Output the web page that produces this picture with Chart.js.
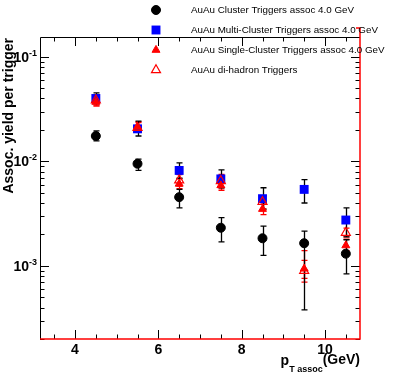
<!DOCTYPE html>
<html>
<head>
<meta charset="utf-8">
<script src="https://cdn.jsdelivr.net/npm/chart.js@4"></script>
<style>
  html, body { margin: 0; padding: 0; background: #fff; }
  #wrap { width: 401px; height: 377px; }
</style>
</head>
<body>
<div id="wrap"><canvas id="myChart" width="401" height="377"></canvas></div>
<script>
// pT assoc bin centres (GeV)
const ptAssoc = [4.5, 5.5, 6.5, 7.5, 8.5, 9.5, 10.5];

// AuAu Cluster Triggers assoc 4.0 GeV
const cluster   = [0.0175, 0.0095, 0.00455, 0.00232, 0.00184, 0.00165, 0.00131];
const clusterHi = [0.0196, 0.0105, 0.0054, 0.0029, 0.0024, 0.00215, 0.00178];
const clusterLo = [0.0157, 0.0082, 0.0036, 0.0017, 0.00126, 0.00038, 0.00084];

// AuAu Multi-Cluster Triggers assoc 4.0 GeV
const multi   = [0.0400, 0.0205, 0.0082, 0.0068, 0.0044, 0.0054, 0.00275];
const multiHi = [0.0453, 0.0243, 0.0097, 0.0083, 0.0056, 0.0067, 0.0036];
const multiLo = [0.0355, 0.0175, 0.0069, 0.0056, 0.0035, 0.0040, 0.0019];

// AuAu Single-Cluster Triggers assoc 4.0 GeV
const single   = [0.0370, 0.0214, 0.0061, 0.0059, 0.0035, 0.00094, 0.00157];
const singleHi = [0.0410, 0.0235, 0.0068, 0.0066, 0.0040, 0.00113, 0.0018];
const singleLo = [0.0340, 0.0195, 0.0055, 0.0053, 0.0031, 0.00076, 0.0014];

// AuAu di-hadron Triggers
const diHadron   = [0.0385, 0.0210, 0.0066, 0.0065, 0.0041, 0.00090, 0.00208];
const diHadronHi = [0.0430, 0.0240, 0.0075, 0.0075, 0.0047, 0.00140, 0.0023];
const diHadronLo = [0.0340, 0.0190, 0.0058, 0.0056, 0.0035, 0.00070, 0.0019];

const xTickLabels = [4, 6, 8, 10];
const yTickLabels = [-3, -2, -1];   // exponents of 10

const FONT = '"Liberation Sans", Arial, Helvetica, sans-serif';

function pts(ys) {
  return ptAssoc.map((x, i) => ({ x: x, y: ys[i] }));
}

const datasets = [
  { label: 'AuAu Cluster Triggers assoc 4.0 GeV', data: pts(cluster), lo: clusterLo, hi: clusterHi,
    pointStyle: 'circle', pointRadius: 4.5, backgroundColor: '#000', borderColor: '#000', borderWidth: 1,
    errColor: '#000', order: 4 },
  { label: 'AuAu Multi-Cluster Triggers assoc 4.0 GeV', data: pts(multi), lo: multiLo, hi: multiHi,
    pointStyle: 'rect', pointRadius: 6.3, backgroundColor: '#0000ff', borderColor: '#0000ff', borderWidth: 0,
    errColor: '#000', order: 3 },
  { label: 'AuAu Single-Cluster Triggers assoc 4.0 GeV', data: pts(single), lo: singleLo, hi: singleHi,
    pointStyle: 'triangle', pointRadius: 4.6, backgroundColor: '#ff0000', borderColor: '#ff0000', borderWidth: 1,
    errColor: '#ff0000', order: 2 },
  { label: 'AuAu di-hadron Triggers', data: pts(diHadron), lo: diHadronLo, hi: diHadronHi,
    pointStyle: 'triangle', pointRadius: 5.2, backgroundColor: 'rgba(0,0,0,0)', borderColor: '#ff0000', borderWidth: 1.2,
    errColor: '#ff0000', order: 1 }
];

function drawPow(ctx, xr, y, exp) {
  const base = '10', sup = String(exp);
  ctx.font = 'bold 14px ' + FONT;
  const wb = ctx.measureText(base).width;
  ctx.font = 'bold 9px ' + FONT;
  const ws = ctx.measureText(sup).width;
  ctx.textAlign = 'left';
  ctx.textBaseline = 'alphabetic';
  ctx.font = 'bold 14px ' + FONT;
  ctx.fillText(base, xr - wb - ws, y + 5);
  ctx.font = 'bold 9px ' + FONT;
  ctx.fillText(sup, xr - ws, y - 1);
}

function drawLegendMarker(ctx, ds, x, y) {
  ctx.save();
  ctx.fillStyle = ds.backgroundColor;
  ctx.strokeStyle = ds.borderColor;
  ctx.lineWidth = ds.borderWidth;
  Chart.helpers.drawPoint(ctx, {
    pointStyle: ds.pointStyle, radius: ds.pointRadius, rotation: 0, borderWidth: ds.borderWidth
  }, x, y);
  ctx.restore();
}

const rootFrame = {
  id: 'rootFrame',
  beforeDatasetsDraw(chart) {
    const ctx = chart.ctx, xs = chart.scales.x, ys = chart.scales.y;
    ctx.save();
    chart.data.datasets.slice().reverse().forEach(ds => {
      ctx.strokeStyle = ds.errColor;
      ctx.lineWidth = 1.3;
      ds.data.forEach((p, i) => {
        const px = Math.round(xs.getPixelForValue(p.x)) + 0.5;
        const top = ys.getPixelForValue(ds.hi[i]);
        const bot = ys.getPixelForValue(ds.lo[i]);
        ctx.beginPath();
        ctx.moveTo(px, top); ctx.lineTo(px, bot);
        ctx.moveTo(px - 3, top); ctx.lineTo(px + 3, top);
        ctx.moveTo(px - 3, bot); ctx.lineTo(px + 3, bot);
        ctx.stroke();
      });
    });
    ctx.restore();
  },
  afterDraw(chart) {
    const ctx = chart.ctx, a = chart.chartArea, xs = chart.scales.x, ys = chart.scales.y;
    ctx.save();
    ctx.lineWidth = 1;
    ctx.strokeStyle = '#000';
    // frame
    ctx.beginPath();
    ctx.moveTo(a.left + 0.5, a.bottom); ctx.lineTo(a.left + 0.5, a.top + 0.5);
    ctx.lineTo(a.right, a.top + 0.5);
    ctx.stroke();
    // x ticks (bottom and top, inward)
    ctx.beginPath();
    for (let v = 3.5; v <= 10.5 + 1e-9; v += 0.5) {
      const px = Math.round(xs.getPixelForValue(v)) + 0.5;
      const len = xTickLabels.includes(v) ? 9 : 4.5;
      ctx.moveTo(px, a.bottom); ctx.lineTo(px, a.bottom - len);
      ctx.moveTo(px, a.top); ctx.lineTo(px, a.top + len);
    }
    // y ticks (left and right, inward)
    for (let d = -4; d <= -1; d++) {
      for (let m = 1; m <= 9; m++) {
        const v = m * Math.pow(10, d);
        if (v < ys.min || v > ys.max) continue;
        const py = Math.round(ys.getPixelForValue(v)) + 0.5;
        const len = m === 1 ? 9 : 4.5;
        ctx.moveTo(a.left, py); ctx.lineTo(a.left + len, py);
        ctx.moveTo(a.right, py); ctx.lineTo(a.right - len, py);
      }
    }
    ctx.stroke();
    // red lines on right and bottom
    ctx.strokeStyle = '#ff0000';
    ctx.lineWidth = 1.5;
    ctx.beginPath();
    ctx.moveTo(a.right - 4, a.top - 9); ctx.lineTo(a.right, a.top - 9);
    ctx.lineTo(a.right, a.bottom); ctx.lineTo(a.left, a.bottom);
    ctx.stroke();

    // tick labels
    ctx.fillStyle = '#000';
    ctx.font = 'bold 14px ' + FONT;
    ctx.textAlign = 'center';
    ctx.textBaseline = 'alphabetic';
    xTickLabels.forEach(v => {
      ctx.fillText(String(v), xs.getPixelForValue(v), a.bottom + 15);
    });
    yTickLabels.forEach(e => {
      drawPow(ctx, a.left - 3, ys.getPixelForValue(Math.pow(10, e)), e);
    });

    // axis titles
    ctx.save();
    ctx.translate(13, a.top + 1);
    ctx.rotate(-Math.PI / 2);
    ctx.font = 'bold 14px ' + FONT;
    ctx.textAlign = 'right';
    ctx.textBaseline = 'alphabetic';
    ctx.fillText('Assoc. yield per trigger', 0, 0);
    ctx.restore();

    ctx.textAlign = 'left';
    ctx.font = 'bold 14px ' + FONT;
    const wGeV = ctx.measureText('(GeV)').width;
    ctx.font = 'bold 9px ' + FONT;
    const wSub = ctx.measureText('T assoc').width;
    ctx.font = 'bold 14px ' + FONT;
    const wP = ctx.measureText('p').width;
    let tx = a.right - wGeV - wSub - wP;
    ctx.fillText('p', tx, 365);
    ctx.font = 'bold 9px ' + FONT;
    ctx.fillText('T assoc', tx + wP, 372);
    ctx.font = 'bold 14px ' + FONT;
    ctx.fillText('(GeV)', tx + wP + wSub, 364);

    // legend
    const ly = [10, 30, 50, 70];
    chart.data.datasets.forEach((ds, i) => {
      drawLegendMarker(ctx, ds, 156, ly[i]);
      ctx.fillStyle = '#000';
      ctx.font = '9.8px ' + FONT;
      ctx.textAlign = 'left';
      ctx.textBaseline = 'middle';
      ctx.fillText(ds.label, 191, ly[i]);
    });
    ctx.restore();
  }
};

const ctx = document.getElementById('myChart').getContext('2d');
const chart = new Chart(ctx, {
  type: 'scatter',
  data: { datasets: datasets },
  options: {
    responsive: false,
    animation: false,
    devicePixelRatio: 1,
    layout: { padding: { left: 40, right: 41, top: 37, bottom: 38 } },
    plugins: { legend: { display: false }, tooltip: { enabled: false } },
    scales: {
      x: { type: 'linear', min: 3.16, max: 10.84, display: false },
      y: { type: 'logarithmic', min: 0.0002, max: 0.155, display: false }
    }
  },
  plugins: [rootFrame]
});
</script>
</body>
</html>
